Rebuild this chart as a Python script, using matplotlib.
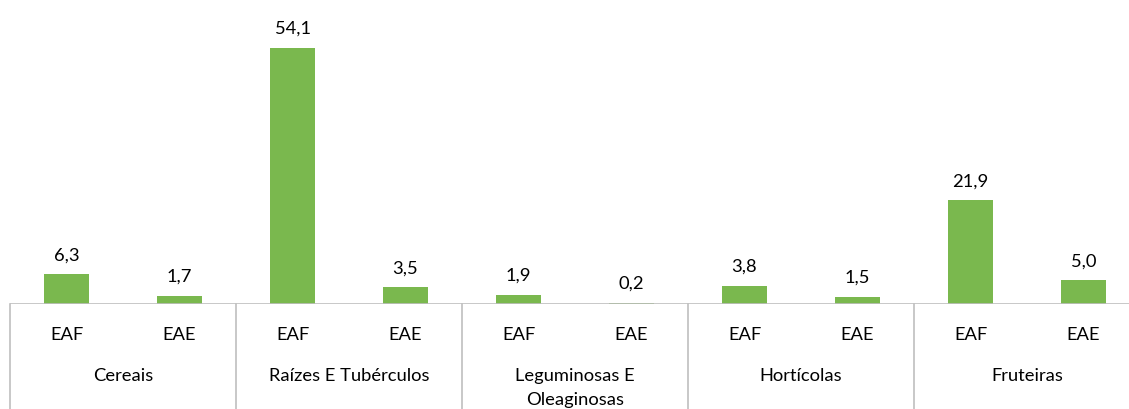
import matplotlib
matplotlib.use("Agg")
import matplotlib.pyplot as plt
from matplotlib.lines import Line2D

plt.rcParams['font.family'] = ['Lato', 'DejaVu Sans']

# data
groups = ["Cereais", "Raízes E Tubérculos", "Leguminosas E\nOleaginosas", "Hortícolas", "Fruteiras"]
subLabels = ["EAF", "EAE"]
values = [6.3, 1.7, 54.1, 3.5, 1.9, 0.2, 3.8, 1.5, 21.9, 5.0]

barColor = "#7AB84E"
lineColor = "#BFBFBF"
fs = 13.2

W, H = 1129, 409
fig = plt.figure(figsize=(W / 100, H / 100), dpi=100)
px = 0.72  # pixels -> points at 100 dpi

# axes: x from 10px to 1140px (runs past right edge), baseline at 304px
left, right = 10, 1140
base, top = 304, 20
ax = fig.add_axes([left / W, (H - base) / H, (right - left) / W, (base - top) / H])

n = len(values)
xs = list(range(n))
ax.bar(xs, values, width=0.4, color=barColor, zorder=2)
ax.set_xlim(-0.5, n - 0.5)
ax.set_ylim(0, 60)

for x, v in zip(xs, values):
    ax.annotate(f"{v:.1f}".replace(".", ","), (x, v), xytext=(0, 14 * px),
                textcoords="offset points", ha="center", va="baseline", fontsize=fs)

for s in ax.spines.values():
    s.set_visible(False)
ax.set_xticks([])
ax.set_yticks([])
ax.axhline(0, color=lineColor, lw=1.2, zorder=3)

# multi-level category axis
for i in range(len(groups) + 1):
    xp = i * 2 - 0.5
    ax.add_line(Line2D([xp, xp], [0, -1], transform=ax.get_xaxis_transform(),
                       color=lineColor, lw=1.2, clip_on=False))

for x in xs:
    ax.annotate(subLabels[x % 2], (x, 0), xytext=(0, -36 * px),
                textcoords="offset points", ha="center", va="baseline", fontsize=fs)

# group names, one line at a time so the first lines share a baseline
for g, name in enumerate(groups):
    for k, line in enumerate(name.split("\n")):
        ax.annotate(line, (g * 2 + 0.5, 0), xytext=(0, -(77 + 24 * k) * px),
                    textcoords="offset points", ha="center", va="baseline", fontsize=fs)

fig.savefig("out.png", dpi=100)
